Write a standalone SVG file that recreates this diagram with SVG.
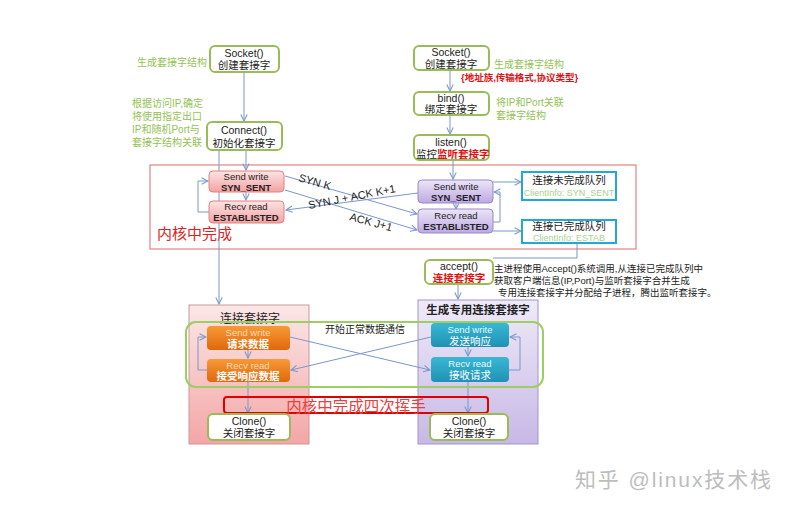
<svg xmlns="http://www.w3.org/2000/svg" width="793" height="509" viewBox="0 0 793 509">
<defs>
<style>
text{font-family:"Liberation Sans","Noto Sans CJK SC",sans-serif;}
.c{text-anchor:middle;}
.wb{fill:#fff;stroke:#9bbb59;stroke-width:2;}
.lbl{fill:#92c353;font-size:10px;}
.t{font-size:10.5px;fill:#222;}
.ln{fill:none;stroke:#7b97c9;stroke-width:1;}
.b{font-weight:bold;}
</style>
<marker id="ar" viewBox="0 0 10 10" refX="9" refY="5" markerWidth="8" markerHeight="8" orient="auto" markerUnits="userSpaceOnUse">
<path d="M1,1 L9,5 L1,9" fill="none" stroke="#7b97c9" stroke-width="1.3"/>
</marker>
<linearGradient id="gPink" x1="0" y1="0" x2="0" y2="1"><stop offset="0" stop-color="#fde3e3"/><stop offset="1" stop-color="#f3a3a3"/></linearGradient>
<linearGradient id="gPurp" x1="0" y1="0" x2="0" y2="1"><stop offset="0" stop-color="#ece5f7"/><stop offset="1" stop-color="#bda9e3"/></linearGradient>
<linearGradient id="gPinkBig" x1="0" y1="0" x2="0" y2="1"><stop offset="0" stop-color="#fbe7e7"/><stop offset="1" stop-color="#f4a6a6"/></linearGradient>
<linearGradient id="gPurpBig" x1="0" y1="0" x2="0" y2="1"><stop offset="0" stop-color="#efeaf8"/><stop offset="1" stop-color="#c7b8e6"/></linearGradient>
<linearGradient id="gOr" x1="0" y1="0" x2="0" y2="1"><stop offset="0" stop-color="#f79a35"/><stop offset="1" stop-color="#e0680e"/></linearGradient>
<linearGradient id="gCy" x1="0" y1="0" x2="0" y2="1"><stop offset="0" stop-color="#3ab7d6"/><stop offset="1" stop-color="#1f92b3"/></linearGradient>
</defs>
<rect width="793" height="509" fill="#fff"/>

<!-- containers -->
<g id="kernel">
<rect x="150" y="165" width="486" height="84" fill="none" stroke="#dc6b6b" stroke-width="1"/>
<text x="157" y="239" fill="#e02020" font-size="15">内核中完成</text>
</g>
<g id="connSock">
<rect x="189" y="305" width="120" height="139" fill="url(#gPinkBig)" stroke="#c99" stroke-width="1"/>
<text class="c" x="250" y="323" font-size="12" fill="#222">连接套接字</text>
</g>
<g id="dedicatedSock">
<rect x="418" y="300" width="120" height="144" fill="url(#gPurpBig)" stroke="#a395c9" stroke-width="1"/>
<text class="c b" x="478" y="314" font-size="11.5" fill="#222">生成专用连接套接字</text>
</g>

<!-- connectors -->
<g id="connectors">
<line class="ln" x1="244" y1="72" x2="244" y2="121" marker-end="url(#ar)"/>
<line class="ln" x1="246" y1="150" x2="246" y2="170" marker-end="url(#ar)"/>
<line class="ln" x1="219" y1="150" x2="219" y2="304" marker-end="url(#ar)"/>
<line class="ln" x1="246" y1="192" x2="246" y2="200" marker-end="url(#ar)"/>
<polyline class="ln" points="209,212 198,212 198,181 208,181" marker-end="url(#ar)"/>
<line class="ln" x1="450" y1="70" x2="450" y2="91" marker-end="url(#ar)"/>
<line class="ln" x1="450" y1="115" x2="450" y2="134" marker-end="url(#ar)"/>
<line class="ln" x1="453" y1="160" x2="453" y2="179" marker-end="url(#ar)"/>
<line class="ln" x1="456" y1="203" x2="456" y2="209" marker-end="url(#ar)"/>
<line class="ln" x1="285" y1="176" x2="417" y2="214" marker-end="url(#ar)"/>
<line class="ln" x1="285" y1="190" x2="417" y2="230" marker-end="url(#ar)"/>
<line class="ln" x1="418" y1="193" x2="286" y2="210" marker-end="url(#ar)"/>
<line class="ln" x1="493" y1="182" x2="521" y2="182" marker-end="url(#ar)"/>
<polyline class="ln" points="493,222 500,222 500,192 494,192" marker-end="url(#ar)"/>
<line class="ln" x1="493" y1="231" x2="521" y2="231" marker-end="url(#ar)"/>
<polyline class="ln" points="577,242 577,258 493,258"/>
<line class="ln" x1="458" y1="284" x2="458" y2="299" marker-end="url(#ar)"/>
<line class="ln" x1="248" y1="350" x2="248" y2="358" marker-end="url(#ar)"/>
<polyline class="ln" points="207,370 198,370 198,337 206,337" marker-end="url(#ar)"/>
<line class="ln" x1="468" y1="347" x2="468" y2="356" marker-end="url(#ar)"/>
<polyline class="ln" points="509,370 520,370 520,337 510,337" marker-end="url(#ar)"/>
<line class="ln" x1="290" y1="337" x2="430" y2="370" marker-end="url(#ar)"/>
<line class="ln" x1="431" y1="337" x2="291" y2="370" marker-end="url(#ar)"/>
<line class="ln" x1="248" y1="382" x2="248" y2="413" marker-end="url(#ar)"/>
<line class="ln" x1="468" y1="382" x2="468" y2="413" marker-end="url(#ar)"/>
<text x="0" y="0" font-size="11" fill="#222" transform="translate(298,181) rotate(16)">SYN  K</text>
<text x="0" y="0" font-size="11" fill="#222" transform="translate(309,209) rotate(-11)">SYN J + ACK  K+1</text>
<text x="0" y="0" font-size="11" fill="#222" transform="translate(349,220) rotate(15)">ACK J+1</text>
</g>

<!-- client column -->
<g id="cSocket">
<rect class="wb" x="210" y="46" width="69" height="26" rx="5"/>
<text class="c t" x="244" y="57">Socket()</text>
<text class="c t" x="244" y="69">创建套接字</text>
<text class="lbl" x="137" y="66">生成套接字结构</text>
</g>
<g id="cConnect">
<rect class="wb" x="207" y="122" width="75" height="28" rx="5"/>
<text class="c t" x="244" y="134">Connect()</text>
<text class="c t" x="244" y="147">初始化套接字</text>
<text class="lbl" x="132" y="107">根据访问IP,确定</text>
<text class="lbl" x="132" y="120">将使用指定出口</text>
<text class="lbl" x="132" y="133">IP和随机Port与</text>
<text class="lbl" x="132" y="146">套接字结构关联</text>
</g>
<g id="cSend">
<rect x="209" y="171" width="75" height="21" rx="4" fill="url(#gPink)" stroke="#e38080"/>
<text class="c" x="246" y="180" font-size="9.5" fill="#222">Send write</text>
<text class="c b" x="246" y="190.5" font-size="9.5" fill="#222">SYN_SENT</text>
</g>
<g id="cRecv">
<rect x="209" y="201" width="75" height="22" rx="4" fill="url(#gPink)" stroke="#e38080"/>
<text class="c" x="246" y="210" font-size="9.5" fill="#222">Recv read</text>
<text class="c b" x="246" y="221" font-size="9.5" fill="#222">ESTABLISTED</text>
</g>

<!-- server column -->
<g id="sSocket">
<rect class="wb" x="414" y="46" width="75" height="24" rx="5"/>
<text class="c t" x="451" y="56">Socket()</text>
<text class="c t" x="451" y="68">创建套接字</text>
<text class="lbl" x="494" y="68">生成套接字结构</text>
<text x="461" y="81" font-size="9.5" fill="#e01010" font-weight="bold">{地址族,传输格式,协议类型}</text>
</g>
<g id="sBind">
<rect class="wb" x="414" y="92" width="75" height="23" rx="5"/>
<text class="c t" x="451" y="102">bind()</text>
<text class="c t" x="451" y="113">绑定套接字</text>
<text class="lbl" x="496" y="106">将IP和Port关联</text>
<text class="lbl" x="496" y="119">套接字结构</text>
</g>
<g id="sListen">
<rect class="wb" x="414" y="135" width="75" height="25" rx="5"/>
<text class="c t" x="451" y="146">listen()</text>
<text class="t" x="416" y="158">监控<tspan fill="#e01010" font-weight="bold">监听套接字</tspan></text>
</g>
<g id="sSend">
<rect x="418" y="180" width="75" height="23" rx="4" fill="url(#gPurp)" stroke="#9b86cf"/>
<text class="c" x="456" y="190" font-size="9.5" fill="#222">Send write</text>
<text class="c b" x="456" y="201" font-size="9.5" fill="#222">SYN_SENT</text>
</g>
<g id="sRecv">
<rect x="418" y="209" width="75" height="24" rx="4" fill="url(#gPurp)" stroke="#9b86cf"/>
<text class="c" x="456" y="219" font-size="9.5" fill="#222">Recv read</text>
<text class="c b" x="456" y="230" font-size="9.5" fill="#222">ESTABLISTED</text>
</g>
<g id="queueSyn">
<rect x="522" y="172" width="94" height="28" fill="#fff" stroke="#22a7d6" stroke-width="2"/>
<text class="c" x="569" y="184" font-size="10.5" fill="#222">连接未完成队列</text>
<text class="c" x="569" y="196" font-size="9" fill="#a9d18e">ClientInfo: SYN_SENT</text>
</g>
<g id="queueEst">
<rect x="522" y="220" width="94" height="23" fill="#fff" stroke="#22a7d6" stroke-width="2"/>
<text class="c" x="569" y="230" font-size="10.5" fill="#222">连接已完成队列</text>
<text class="c" x="569" y="241" font-size="9" fill="#a9d18e">ClientInfo: ESTAB</text>
</g>
<g id="accept">
<rect class="wb" x="425" y="260" width="68" height="24" rx="5"/>
<text class="c t" x="459" y="270">accept()</text>
<text class="c b" x="459" y="282" font-size="10.5" fill="#e01010">连接套接字</text>
<text x="494" y="272" font-size="9.5" fill="#222">主进程使用Accept()系统调用,从连接已完成队列中</text>
<text x="494" y="284" font-size="9.5" fill="#222">获取客户端信息(IP,Port)与监听套接字合并生成</text>
<text x="498" y="296" font-size="9.5" fill="#222">专用连接套接字并分配给子进程，腾出监听套接字。</text>
</g>

<!-- data phase -->
<g id="dataPhase">
<rect x="186" y="322" width="357" height="65" rx="10" fill="none" stroke="#9bcf5f" stroke-width="2"/>
<text x="325" y="333" font-size="10" fill="#222">开始正常数据通信</text>
</g>
<g id="cSendData">
<rect x="207" y="326" width="83" height="24" rx="4" fill="url(#gOr)"/>
<text class="c" x="248" y="336" font-size="9.5" fill="#fcd9b6">Send write</text>
<text class="c b" x="248" y="347.5" font-size="10.5" fill="#fff">请求数据</text>
</g>
<g id="cRecvData">
<rect x="207" y="359" width="83" height="23" rx="4" fill="url(#gOr)"/>
<text class="c" x="248" y="368.5" font-size="9.5" fill="#fcd9b6">Recv read</text>
<text class="c b" x="248" y="380" font-size="10.5" fill="#fff">接受响应数据</text>
</g>
<g id="sSendData">
<rect x="431" y="323" width="78" height="24" rx="4" fill="url(#gCy)"/>
<text class="c" x="470" y="333" font-size="9.5" fill="#e8f8ff">Send write</text>
<text class="c" x="470" y="345" font-size="10.5" fill="#fff">发送响应</text>
</g>
<g id="sRecvData">
<rect x="431" y="357" width="78" height="25" rx="4" fill="url(#gCy)"/>
<text class="c" x="470" y="367" font-size="9.5" fill="#e8f8ff">Recv read</text>
<text class="c" x="470" y="379" font-size="10.5" fill="#fff">接收请求</text>
</g>
<g id="fourWave">
<rect x="224" y="397" width="264" height="16" rx="3" fill="none" stroke="#e00000" stroke-width="2"/>
<text class="c" x="356" y="411.5" font-size="15.5" fill="#e84040">内核中完成四次挥手</text>
</g>
<g id="cClone">
<rect class="wb" x="208" y="414" width="82" height="26" rx="5"/>
<text class="c t" x="249" y="425">Clone()</text>
<text class="c t" x="249" y="437">关闭套接字</text>
</g>
<g id="sClone">
<rect class="wb" x="430" y="414" width="78" height="26" rx="5"/>
<text class="c t" x="469" y="425">Clone()</text>
<text class="c t" x="469" y="437">关闭套接字</text>
</g>
<text x="575" y="487" font-size="21" fill="#bdbdbd" textLength="196" lengthAdjust="spacing">知乎 @linux技术栈</text>
</svg>
